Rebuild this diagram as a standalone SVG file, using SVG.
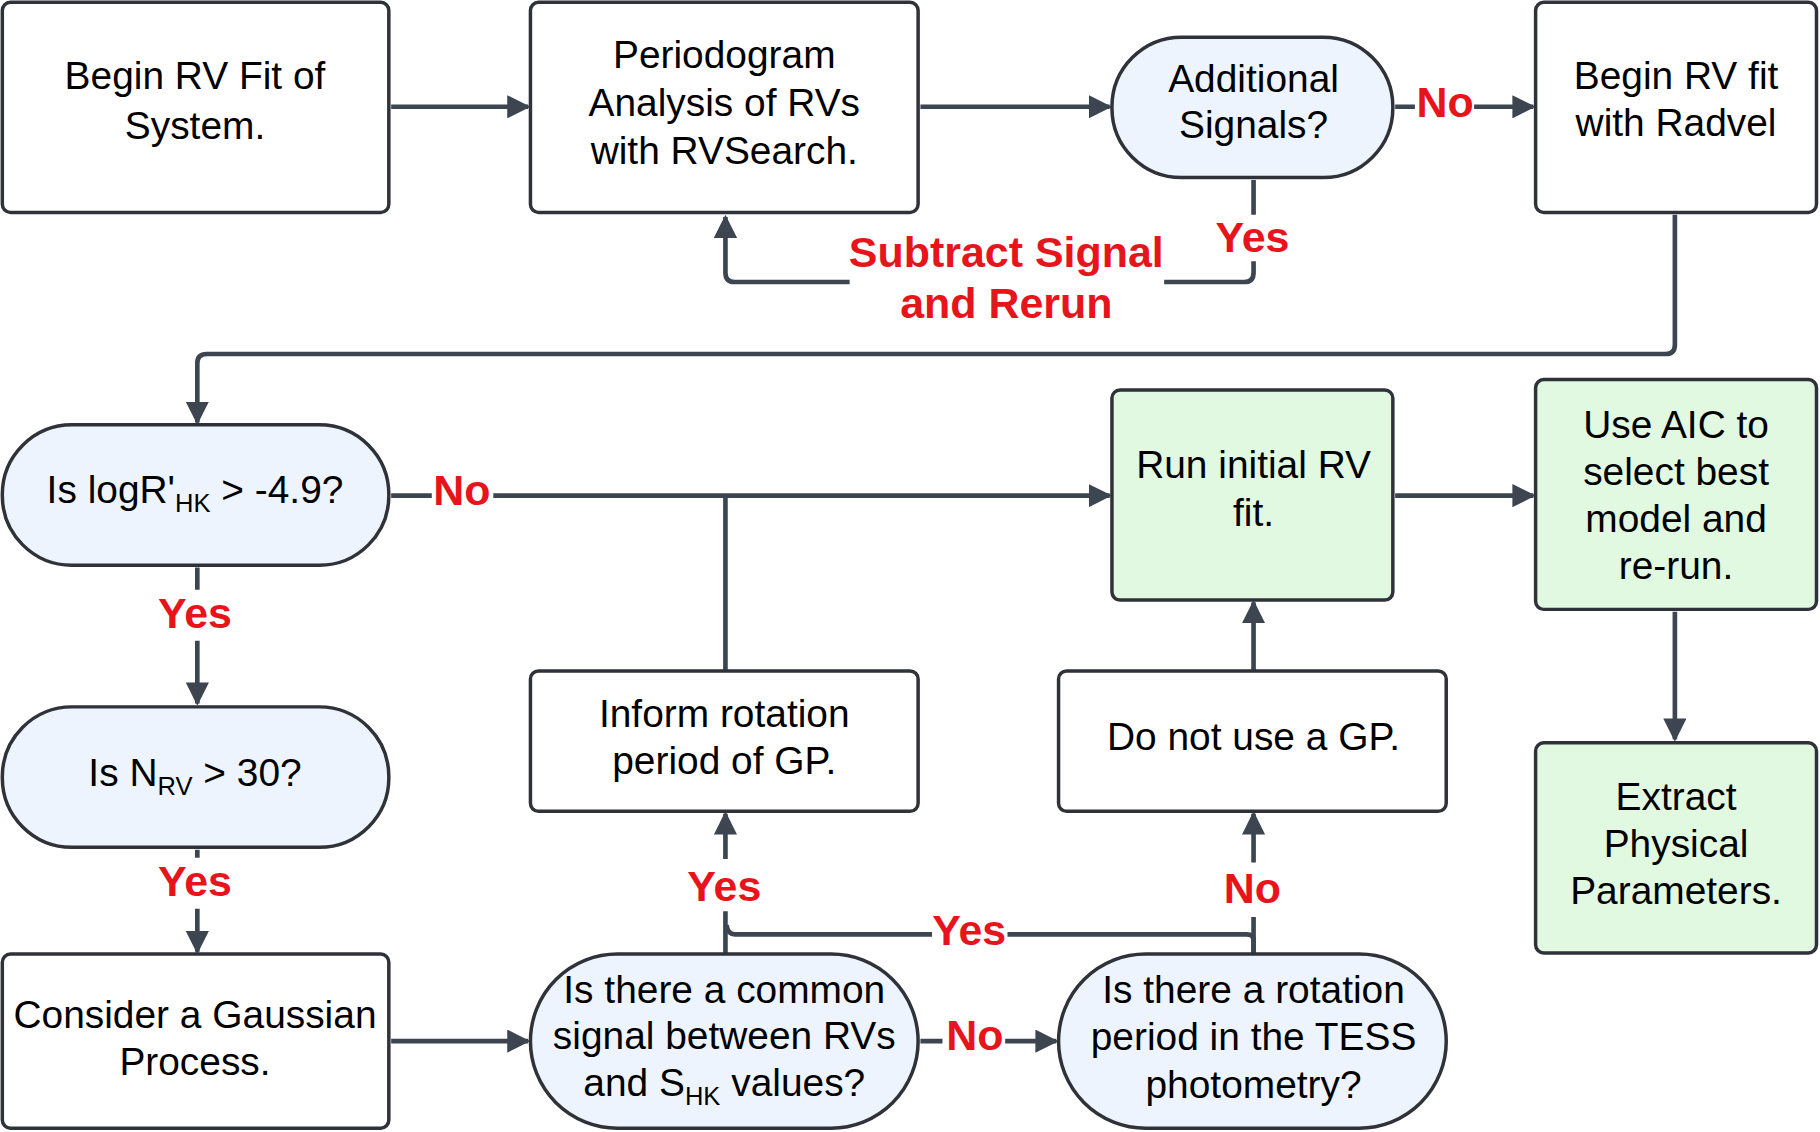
<svg xmlns="http://www.w3.org/2000/svg" width="1820" height="1132" viewBox="0 0 1820 1132">
<style>
.b{fill:#fff;stroke:#2f3238;stroke-width:3}
.p{fill:#edf4fe;stroke:#2f3238;stroke-width:3}
.g{fill:#e1f8e1;stroke:#2f3238;stroke-width:3}
text{font-family:"Liberation Sans",Arial,sans-serif;font-size:33.5px;fill:#000;text-anchor:middle}
.l{fill:#e8141c;font-weight:bold;font-size:37px}
.c path{fill:none;stroke:#3d4550;stroke-width:4;stroke-linejoin:round}
</style>
<defs><marker id="a" viewBox="0 0 10 10" refX="9" refY="5" markerWidth="5" markerHeight="5" orient="auto" markerUnits="strokeWidth"><path d="M0,0L10,5L0,10z" fill="#3d4550"/></marker></defs>
<rect width="1820" height="1132" fill="#fff"/>
<g transform="scale(1.1607)">
<g class="c">
<path d="M337,92H455" marker-end="url(#a)"/>
<path d="M793,92H956" marker-end="url(#a)"/>
<path d="M1202,92H1219M1270,92H1321" marker-end="url(#a)"/>
<path d="M1080,155V185M1080,225V235Q1080,243 1072,243H1003M732,243H633Q625,243 625,235V187" marker-end="url(#a)"/>
<path d="M1443,185V297Q1443,305 1435,305H178Q170,305 170,313V364" marker-end="url(#a)"/>
<path d="M337,427H372M425,427H956" marker-end="url(#a)"/>
<path d="M625,578V427"/>
<path d="M1202,427H1321" marker-end="url(#a)"/>
<path d="M1443,527V637" marker-end="url(#a)"/>
<path d="M170,489V508M170,552V606" marker-end="url(#a)"/>
<path d="M170,732V739M170,783V820" marker-end="url(#a)"/>
<path d="M337,897H455" marker-end="url(#a)"/>
<path d="M793,897H812M866,897H910" marker-end="url(#a)"/>
<path d="M625,822V785M625,740V701" marker-end="url(#a)"/>
<path d="M1080,822V810Q1080,805 1074,805H868M803,805H633Q627,805 626,797"/>
<path d="M1080,822V790M1080,743V701" marker-end="url(#a)"/>
<path d="M1080,578V519" marker-end="url(#a)"/>
</g>
<g id="n1"><rect class="b" x="2" y="2" width="333" height="181" rx="7"/><text x="168" y="77" font-size="39">Begin RV Fit of</text><text x="168" y="120" font-size="39">System.</text></g>
<g id="n2"><rect class="b" x="457" y="2" width="334" height="181" rx="7"/><text x="624" y="59">Periodogram</text><text x="624" y="100">Analysis of RVs</text><text x="624" y="141">with RVSearch.</text></g>
<g id="n3"><rect class="p" x="958" y="32" width="242" height="121" rx="60"/><text x="1080" y="79">Additional</text><text x="1080" y="119">Signals?</text></g>
<g id="n4"><rect class="b" x="1323" y="2" width="242" height="181" rx="7"/><text x="1444" y="77">Begin RV fit</text><text x="1444" y="117">with Radvel</text></g>
<g id="n5"><rect class="p" x="2" y="366" width="333" height="121" rx="60"/><text x="168" y="433">Is logR'<tspan font-size="22" dy="8">HK</tspan><tspan dy="-8"> &gt; -4.9?</tspan></text></g>
<g id="n6"><rect class="g" x="958" y="336" width="242" height="181" rx="7"/><text x="1080" y="412">Run initial RV</text><text x="1080" y="453">fit.</text></g>
<g id="n7"><rect class="g" x="1323" y="327" width="242" height="198" rx="7"/><text x="1444" y="377">Use AIC to</text><text x="1444" y="418">select best</text><text x="1444" y="458">model and</text><text x="1444" y="499">re-run.</text></g>
<g id="n8"><rect class="p" x="2" y="609" width="333" height="121" rx="60"/><text x="168" y="677">Is N<tspan font-size="22" dy="8">RV</tspan><tspan dy="-8"> &gt; 30?</tspan></text></g>
<g id="n9"><rect class="b" x="457" y="578" width="334" height="121" rx="7"/><text x="624" y="626">Inform rotation</text><text x="624" y="667">period of GP.</text></g>
<g id="n10"><rect class="b" x="912" y="578" width="334" height="121" rx="7"/><text x="1080" y="646">Do not use a GP.</text></g>
<g id="n11"><rect class="g" x="1323" y="640" width="242" height="181" rx="7"/><text x="1444" y="698">Extract</text><text x="1444" y="738">Physical</text><text x="1444" y="779">Parameters.</text></g>
<g id="n12"><rect class="b" x="2" y="822" width="333" height="150" rx="7"/><text x="168" y="886">Consider a Gaussian</text><text x="168" y="926">Process.</text></g>
<g id="n13"><rect class="p" x="457" y="822" width="334" height="150" rx="75"/><text x="624" y="864">Is there a common</text><text x="624" y="904">signal between RVs</text><text x="624" y="944">and S<tspan font-size="22" dy="8">HK</tspan><tspan dy="-8"> values?</tspan></text></g>
<g id="n14"><rect class="p" x="912" y="822" width="334" height="150" rx="75"/><text x="1080" y="864">Is there a rotation</text><text x="1080" y="905">period in the TESS</text><text x="1080" y="946">photometry?</text></g>
<g id="labels">
<text class="l" x="1245" y="101">No</text>
<text class="l" x="1079" y="217">Yes</text>
<text class="l" x="867" y="230">Subtract Signal</text>
<text class="l" x="867" y="274">and Rerun</text>
<text class="l" x="398" y="435">No</text>
<text class="l" x="168" y="541">Yes</text>
<text class="l" x="168" y="772">Yes</text>
<text class="l" x="624" y="776">Yes</text>
<text class="l" x="835" y="814">Yes</text>
<text class="l" x="1079" y="778">No</text>
<text class="l" x="840" y="905">No</text>
</g>
</g>
</svg>
